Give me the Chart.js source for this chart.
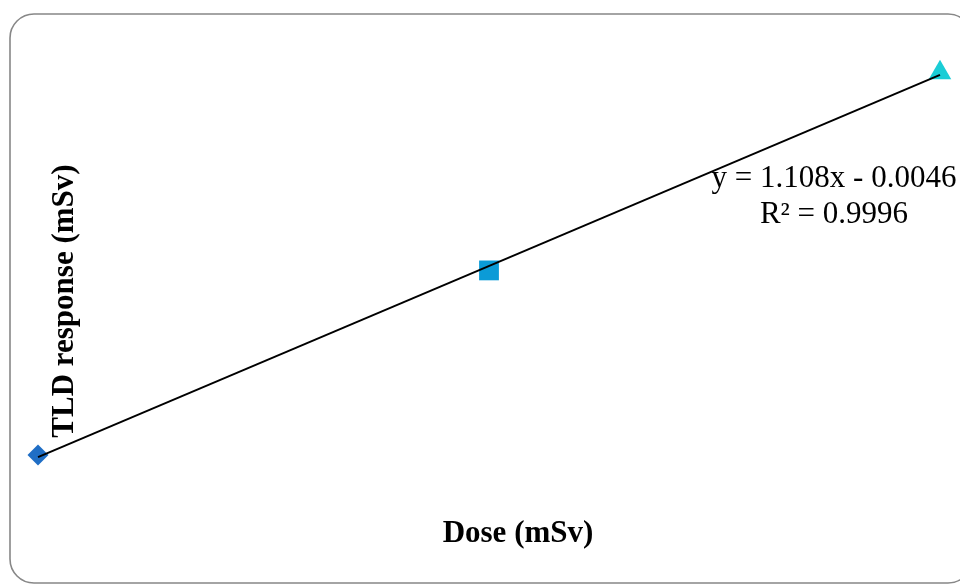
<!DOCTYPE html>
<html>
<head>
<meta charset="utf-8">
<script src="https://cdn.jsdelivr.net/npm/chart.js@4/dist/chart.umd.min.js"></script>
<style>
  html, body { margin: 0; padding: 0; background: #ffffff; }
  #wrap { width: 960px; height: 585px; position: relative; }
</style>
</head>
<body>
<div id="wrap"><canvas id="c" width="960" height="585"></canvas></div>
<script>
// Calibration data: delivered dose vs. TLD reading (mSv)
const doses = [1, 2, 3];
const tldResponse = [1.116, 2.186, 3.332];
const seriesColors = ['#1F6EC5', '#0B9BD7', '#1ACDD6'];
const seriesMarkers = ['rectRot', 'rect', 'triangle'];
const seriesRadius = [10.5, 14, 13];

// Linear fit shown on the chart
const fitSlope = 1.108;
const fitIntercept = -0.0046;
const fitR2 = 0.9996;

const xTitle = 'Dose (mSv)';
const yTitle = 'TLD response (mSv)';
const eqLine1 = 'y = ' + fitSlope.toFixed(3) + 'x - ' + Math.abs(fitIntercept).toFixed(4);
const eqLine2 = 'R\u00B2 = ' + fitR2.toFixed(4);

const fitLine = [doses[0], doses[doses.length - 1]].map(x => ({ x: x, y: fitSlope * x + fitIntercept }));

const pointSets = doses.map((d, i) => ({
  label: 'S' + (i + 1),
  data: [{ x: d, y: tldResponse[i] }],
  pointStyle: seriesMarkers[i],
  pointRadius: seriesRadius[i],
  pointHoverRadius: seriesRadius[i],
  pointBackgroundColor: seriesColors[i],
  pointBorderColor: seriesColors[i],
  pointBorderWidth: 0,
  showLine: false,
  clip: false,
  order: 1
}));

const decorations = {
  id: 'decorations',
  beforeDraw(chart) {
    const ctx = chart.ctx;
    ctx.save();
    ctx.fillStyle = '#ffffff';
    ctx.fillRect(0, 0, chart.width, chart.height);
    // rounded frame
    const x0 = 10, y0 = 14, x1 = 972, y1 = 583, r = 24;
    ctx.beginPath();
    ctx.moveTo(x0 + r, y0);
    ctx.lineTo(x1 - r, y0);
    ctx.arcTo(x1, y0, x1, y0 + r, r);
    ctx.lineTo(x1, y1 - r);
    ctx.arcTo(x1, y1, x1 - r, y1, r);
    ctx.lineTo(x0 + r, y1);
    ctx.arcTo(x0, y1, x0, y1 - r, r);
    ctx.lineTo(x0, y0 + r);
    ctx.arcTo(x0, y0, x0 + r, y0, r);
    ctx.closePath();
    ctx.strokeStyle = '#878787';
    ctx.lineWidth = 1.6;
    ctx.stroke();
    ctx.restore();
  },
  afterDraw(chart) {
    const ctx = chart.ctx;
    ctx.save();
    ctx.fillStyle = '#000000';
    ctx.textAlign = 'center';
    ctx.textBaseline = 'alphabetic';
    ctx.font = 'bold 31px "Liberation Serif", "Times New Roman", serif';
    ctx.fillText(xTitle, 518, 542);
    ctx.save();
    ctx.translate(73, 301);
    ctx.rotate(-Math.PI / 2);
    ctx.fillText(yTitle, 0, 0);
    ctx.restore();
    ctx.font = '31px "Liberation Serif", "Times New Roman", serif';
    ctx.fillText(eqLine1, 834, 187);
    ctx.fillText(eqLine2, 834, 223);
    ctx.restore();
  }
};

new Chart(document.getElementById('c'), {
  type: 'scatter',
  data: {
    datasets: [
      {
        label: 'Linear fit',
        data: fitLine,
        showLine: true,
        borderColor: '#000000',
        borderWidth: 2,
        pointRadius: 0,
        pointHoverRadius: 0,
        fill: false,
        clip: false,
        order: 0
      },
      ...pointSets
    ]
  },
  options: {
    responsive: false,
    animation: false,
    devicePixelRatio: 1,
    layout: { padding: { left: 38, right: 20, top: 61, bottom: 110 } },
    plugins: { legend: { display: false }, tooltip: { enabled: false } },
    scales: {
      x: { type: 'linear', min: 1, max: 3, display: false },
      y: { type: 'linear', min: 1, max: 3.4, display: false }
    }
  },
  plugins: [decorations]
});
</script>
</body>
</html>
